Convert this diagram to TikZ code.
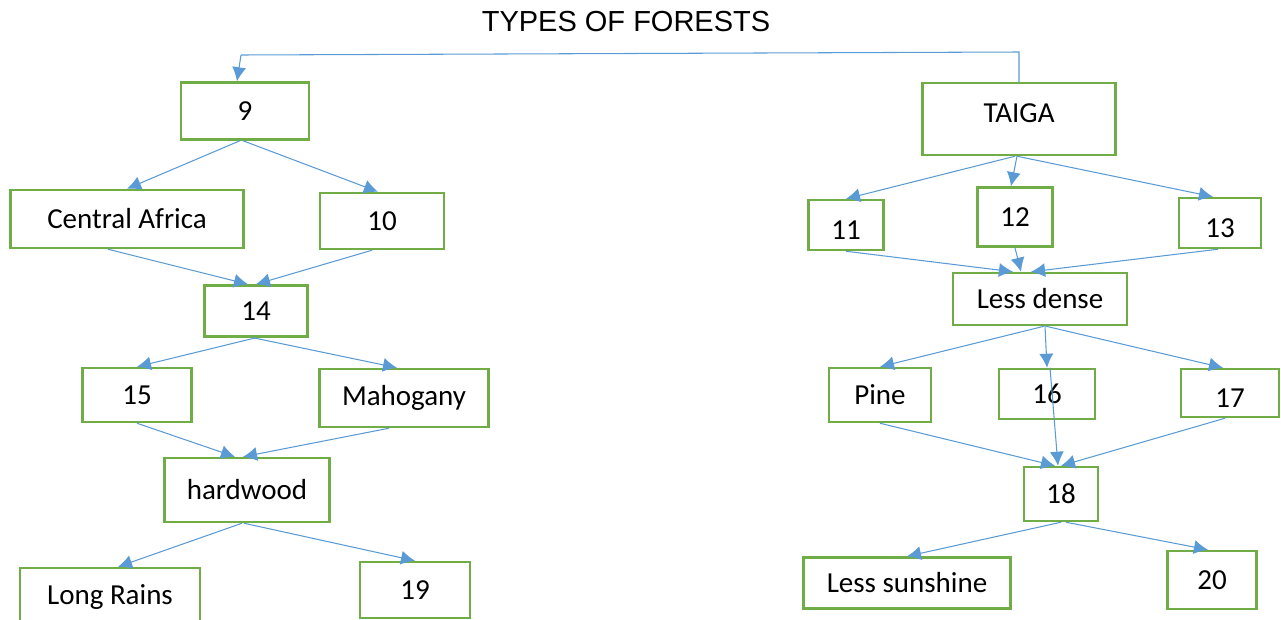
\documentclass[tikz,border=0pt]{standalone}
\usepackage{fontspec}
\setmainfont{Carlito}
\newfontfamily\titlefont{Liberation Sans}
\usetikzlibrary{arrows.meta}
\definecolor{boxgreen}{HTML}{70AD47}
\definecolor{linkblue}{HTML}{5B9BD5}

\begin{document}
\begin{tikzpicture}[x=0.02cm, y=-0.02cm,
    box/.style={rectangle, draw=boxgreen, line width=1.4pt, inner sep=0pt, font=\fontsize{16.5}{19}\selectfont},
    link/.style={draw=linkblue, line width=0.6pt}]
    \useasboundingbox (0,0) rectangle (1281,619);

    \node [font=\fontsize{16.5}{19}\selectfont\titlefont] (title) at (626,22) {TYPES OF FORESTS};

    \begin{scope}
      % left tree
      \node [box, minimum width=2.56cm, minimum height=1.14cm] (9) at (245,111) {9};
      \node [box, minimum width=4.66cm, minimum height=1.16cm] (ca) at (127,219) {Central Africa};
      \node [box, minimum width=2.48cm, minimum height=1.12cm] (10) at (382,221) {10};
      \node [box, minimum width=2.06cm, minimum height=1.02cm] (14) at (256,311) {14};
      \node [box, minimum width=2.18cm, minimum height=1.08cm] (15) at (137,395) {15};
      \node [box, minimum width=3.38cm, minimum height=1.16cm] (mah) at (404,398) {Mahogany};
      \node [box, minimum width=3.30cm, minimum height=1.28cm] (hw) at (247,490) {hardwood};
      \node [box, minimum width=3.60cm, minimum height=1.16cm] (lr) at (110,597) {Long Rains};
      \node [box, minimum width=2.20cm, minimum height=1.12cm] (19) at (415,590) {19};
    \end{scope}

    \begin{scope}
      % right tree
      \node [box, minimum width=3.86cm, minimum height=1.44cm, text depth=7pt] (taiga) at (1019,119) {TAIGA};
      \node [box, minimum width=1.50cm, minimum height=1.00cm, text height=17pt] (11) at (846,225) {11};
      \node [box, minimum width=1.50cm, minimum height=1.18cm] (12) at (1015,217) {12};
      \node [box, minimum width=1.64cm, minimum height=1.00cm, text height=17pt] (13) at (1220,223) {13};
      \node [box, minimum width=3.48cm, minimum height=1.04cm] (ld) at (1040,299) {Less dense};
      \node [box, minimum width=2.04cm, minimum height=1.08cm] (pine) at (880,395) {Pine};
      \node [box, minimum width=1.92cm, minimum height=1.00cm] (16) at (1047,394) {16};
      \node [box, minimum width=1.96cm, minimum height=0.96cm, text height=17pt] (17) at (1230,393) {17};
      \node [box, minimum width=1.48cm, minimum height=1.08cm] (18) at (1061,494) {18};
      \node [box, minimum width=4.14cm, minimum height=1.02cm] (ls) at (907,583) {Less sunshine};
      \node [box, minimum width=1.78cm, minimum height=1.16cm] (20) at (1212,580) {20};
    \end{scope}

    \coordinate (tl) at (241,55);
    \coordinate (tr) at (taiga.north |- 0,52);
    \draw [link] (taiga.north) -- (tr) -- (tl);

    \begin{scope}[->, >={Latex[length=8pt, width=8pt]}, link]
      \draw (tl) -- ([xshift=-0.16cm]9.north);
      \draw ([xshift=-0.1cm]9.south) -- (ca.north);
      \draw ([xshift=-0.04cm]9.south) -- ([xshift=-0.08cm]10.north);
      \draw ([xshift=-0.38cm]ca.south) -- ([xshift=-0.16cm]14.north);
      \draw ([xshift=-0.2cm]10.south) -- (14.north);
      \draw (14.south) -- (15.north);
      \draw ([xshift=-0.06cm]14.south) -- ([xshift=-0.14cm]mah.north);
      \draw (15.south) -- ([xshift=-0.24cm]hw.north);
      \draw ([xshift=-0.3cm]mah.south) -- ([xshift=-0.08cm]hw.north);
      \draw ([xshift=-0.1cm]hw.south) -- ([xshift=0.16cm]lr.north);
      \draw ([xshift=-0.06cm]hw.south) -- (19.north);

      \draw ([xshift=-0.08cm]taiga.south) -- (11.north);
      \draw ([xshift=-0.04cm]taiga.south) -- ([xshift=-0.08cm]12.north);
      \draw ([xshift=-0.04cm]taiga.south) -- ([xshift=-0.14cm]13.north);
      \draw (11.south) -- ([xshift=-0.54cm]ld.north);
      \draw (12.south) -- ([xshift=-0.38cm]ld.north);
      \draw ([xshift=-0.04cm]13.south) -- ([xshift=-0.18cm]ld.north);
      \draw ([xshift=0.08cm]ld.south) -- (pine.north);
      \draw ([xshift=0.1cm]ld.south) -- (16.north);
      \draw ([xshift=0.12cm]ld.south) -- ([xshift=-0.14cm]17.north);
      \draw (pine.south) -- ([xshift=-0.12cm]18.north);
      \draw ([xshift=0.06cm]16.north) -- ([xshift=-0.06cm]18.north);
      \draw ([xshift=-0.1cm]17.south) -- (18.north);
      \draw (18.south) -- (ls.north);
      \draw ([xshift=0.1cm]18.south) -- ([xshift=-0.08cm]20.north);
    \end{scope}

\end{tikzpicture}
\end{document}
